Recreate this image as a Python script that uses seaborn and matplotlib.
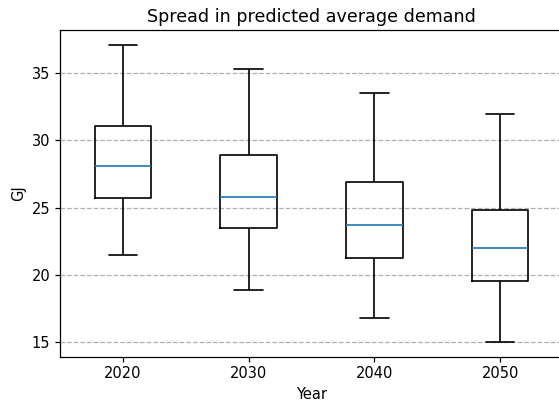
import numpy as np
import pandas as pd
import matplotlib
matplotlib.use("Agg")
import matplotlib.pyplot as plt
import seaborn as sns

years = ["2020", "2030", "2040", "2050"]
whisker_low = [21.5, 18.9, 16.8, 15.0]
q1 = [25.75, 23.5, 21.27, 19.56]
median = [28.11, 25.8, 23.67, 21.96]
q3 = [31.06, 28.93, 26.92, 24.79]
whisker_high = [37.13, 35.32, 33.56, 32.0]

rows = []
for i, y in enumerate(years):
    for v in (whisker_low[i], q1[i], median[i], q3[i], whisker_high[i]):
        rows.append({"Year": y, "GJ": v})
df = pd.DataFrame(rows)

sns.set_style("white")
plt.rcParams["font.family"] = ["DejaVu Sans"]
plt.rcParams["text.color"] = "black"
plt.rcParams["axes.labelcolor"] = "black"
plt.rcParams["xtick.color"] = "black"
plt.rcParams["ytick.color"] = "black"

fig = plt.figure(figsize=(5.59, 4.05), dpi=100)
ax = fig.add_axes([60 / 559, (405 - 356.7) / 405, 503 / 559, 326.7 / 405])

sns.boxplot(data=df, x="Year", y="GJ", ax=ax, fill=False, color="black",
            width=0.45, whis=(0, 100), linewidth=1.2,
            medianprops=dict(color="#1f77b4", linewidth=1.2),
            capwidths=0.225, showcaps=True)

ax.set_ylim(13.9, 38.22)
ax.set_xlim(-0.5, 3.5)
ax.set_yticks([15, 20, 25, 30, 35])
ax.yaxis.grid(True, linestyle="--", color="#b0b0b0", linewidth=0.9)
ax.set_axisbelow(True)
for s in ax.spines.values():
    s.set_visible(True)
    s.set_color("black")
    s.set_linewidth(0.9)
ax.tick_params(axis="both", which="both", direction="out", length=3.5,
               width=0.9, colors="black", labelcolor="black", labelsize=10.5,
               left=True, bottom=True)
ax.set_xlabel("Year", fontsize=10.5, color="black")
ax.set_ylabel("GJ", fontsize=10.5, color="black")
ax.set_title("Spread in predicted average demand", fontsize=12.6, color="black")

fig.savefig("out.png", dpi=100)
